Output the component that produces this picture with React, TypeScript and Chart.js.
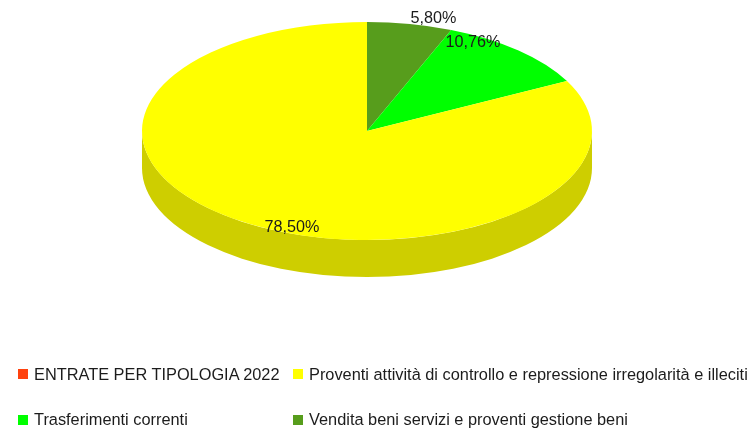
import { useEffect, useRef } from 'react';
import { Chart, registerables } from 'chart.js';

Chart.register(...registerables);

// ---- data (legend order) ----
const categories = [
  'ENTRATE PER TIPOLOGIA 2022',
  'Proventi attività di controllo e repressione irregolarità e illeciti',
  'Trasferimenti correnti',
  'Vendita beni servizi e proventi gestione beni',
];
const percentValues = [0, 78.5, 10.76, 5.8];

// ---- styles ----
const topColors = ['#ff420e', '#ffff00', '#00ff00', '#579d1c'];
const sideColors = ['#cc350b', '#cece00', '#00cc00', '#467e16'];
const labelNudges: [number, number][] = [
  [0, 0],
  [42, 2.6],
  [-45.6, -9.4],
  [23.6, -7],
];

const CX = 367;
const CY = 131;
const RX = 225;
const RY = 109;
const DEPTH = 37;
const FONT = '"Liberation Sans", Arial, sans-serif';

const n = categories.length;
// Chart.js goes clockwise from the top; the reference goes counter-clockwise,
// so feed the series reversed.
const chartLabels = [...categories].reverse();
const chartValues = [...percentValues].reverse();
const chartColors = [...topColors].reverse();

function fmt(v: number) {
  return v.toFixed(2).replace('.', ',') + '%';
}

const pie3d = {
  id: 'pie3d',
  beforeDatasetsDraw(chart: any) {
    const meta = chart.getDatasetMeta(0);
    const arcs = meta.data;
    if (!arcs.length) return;
    const ctx = chart.ctx as CanvasRenderingContext2D;
    const first = arcs[0].getProps(['x', 'y', 'outerRadius'], true);
    const TWO = Math.PI * 2;
    // sides
    arcs.forEach((arc: any, j: number) => {
      const orig = n - 1 - j;
      const { startAngle, endAngle } = arc.getProps(['startAngle', 'endAngle'], true);
      const sweep = endAngle - startAngle;
      if (sweep <= 0) return;
      let s = startAngle % TWO;
      if (s < 0) s += TWO;
      const e = s + sweep;
      const ranges: [number, number][] = [];
      for (const [lo, hi] of [[0, Math.PI], [TWO, TWO + Math.PI]]) {
        const a = Math.max(s, lo);
        const b = Math.min(e, hi);
        if (b > a) ranges.push([a, b]);
      }
      ctx.save();
      ctx.fillStyle = sideColors[orig];
      for (const [a, b] of ranges) {
        ctx.beginPath();
        ctx.ellipse(CX, CY, RX, RY, 0, a, b, false);
        ctx.ellipse(CX, CY + DEPTH, RX, RY, 0, b, a, true);
        ctx.closePath();
        ctx.fill();
      }
      ctx.restore();
    });
    // squash the top face into an ellipse
    ctx.save();
    ctx.translate(CX, CY);
    ctx.scale(RX / first.outerRadius, RY / first.outerRadius);
    ctx.translate(-first.x, -first.y);
  },
  afterDatasetsDraw(chart: any) {
    const meta = chart.getDatasetMeta(0);
    const arcs = meta.data;
    if (!arcs.length) return;
    const ctx = chart.ctx as CanvasRenderingContext2D;
    ctx.restore();
    ctx.save();
    ctx.font = `16.2px ${FONT}`;
    ctx.fillStyle = '#1c1c1c';
    ctx.textAlign = 'center';
    ctx.textBaseline = 'alphabetic';
    arcs.forEach((arc: any, j: number) => {
      const orig = n - 1 - j;
      const v = chartValues[j];
      if (!(v > 0)) return;
      const { startAngle, endAngle } = arc.getProps(['startAngle', 'endAngle'], true);
      const mid = (startAngle + endAngle) / 2;
      const px = CX + Math.cos(mid) * RX + labelNudges[orig][0];
      const py = CY + Math.sin(mid) * RY + labelNudges[orig][1];
      ctx.fillText(fmt(v), px, py + 5.8);
    });
    ctx.restore();
  },
};

export default function App() {
  const canvasRef = useRef<HTMLCanvasElement | null>(null);

  useEffect(() => {
    document.body.style.margin = '0';
    const canvas = canvasRef.current;
    if (!canvas) return;
    const chart = new Chart(canvas, {
      type: 'pie',
      data: {
        labels: chartLabels,
        datasets: [
          {
            data: chartValues,
            backgroundColor: chartColors,
            borderWidth: 0,
            clip: false as any,
          } as any,
        ],
      },
      options: {
        responsive: false,
        animation: false,
        layout: { padding: 0 },
        plugins: {
          legend: { display: false },
          tooltip: { enabled: false },
        },
      },
      plugins: [pie3d as any],
    });
    return () => chart.destroy();
  }, []);

  const legendPos: { left: number; cap: number }[] = [
    { left: 18, cap: 373.5 },
    { left: 293, cap: 373.5 },
    { left: 18, cap: 419 },
    { left: 293, cap: 419 },
  ];

  return (
    <div style={{ position: 'relative', width: 754, height: 430, background: '#fff', overflow: 'hidden' }}>
      <canvas ref={canvasRef} width={754} height={430} style={{ position: 'absolute', left: 0, top: 0, width: 754, height: 430 }} />
      {categories.map((c, i) => (
        <div
          key={c}
          style={{
            position: 'absolute',
            left: legendPos[i].left,
            top: legendPos[i].cap - 10,
            height: 20,
            lineHeight: '20px',
            display: 'flex',
            alignItems: 'center',
            whiteSpace: 'nowrap',
            fontFamily: FONT,
            fontSize: 16.35,
            color: '#1c1c1c',
          }}
        >
          <span style={{ display: 'inline-block', width: 10, height: 10, background: topColors[i], marginRight: 6, marginTop: 1 }} />
          <span>{c}</span>
        </div>
      ))}
    </div>
  );
}
